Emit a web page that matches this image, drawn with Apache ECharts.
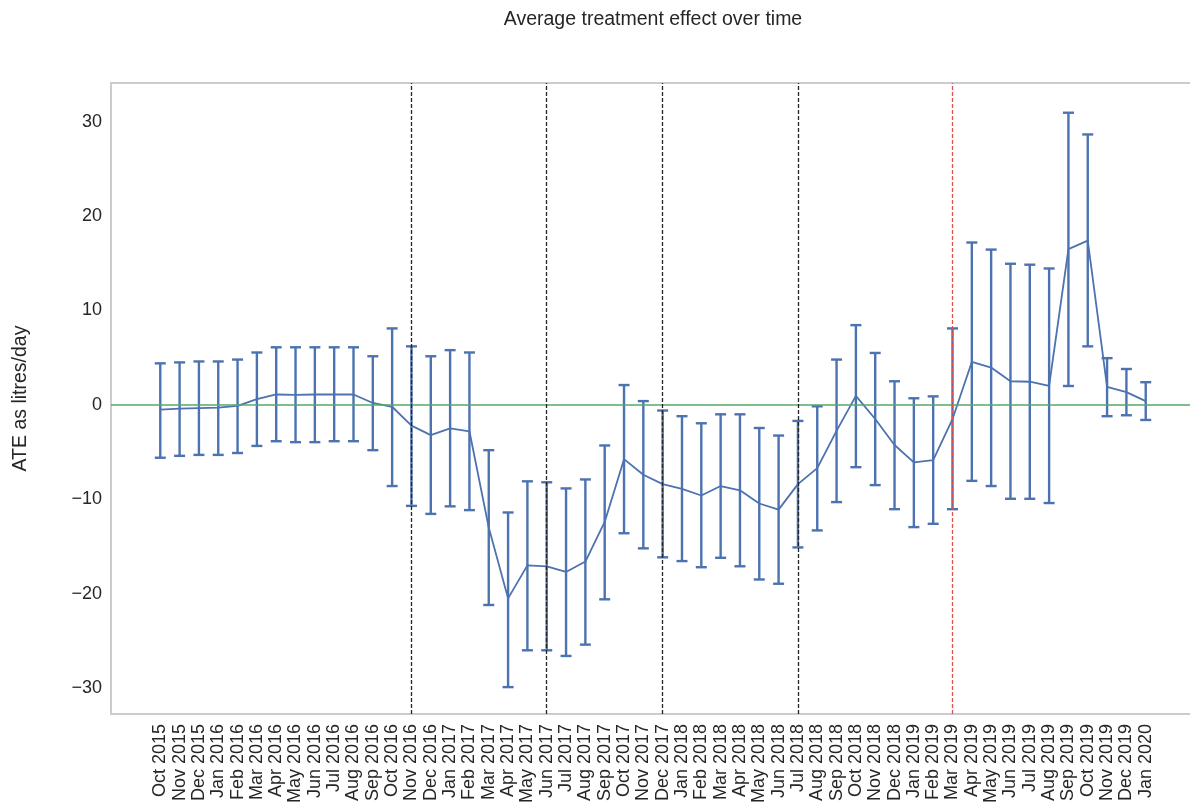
<!DOCTYPE html>
<html>
<head>
<meta charset="utf-8">
<title>Average treatment effect over time</title>
<script src="https://cdn.jsdelivr.net/npm/echarts@6/dist/echarts.min.js"></script>
<style>
  html, body { margin: 0; padding: 0; background: #ffffff; }
  #chart { width: 1190px; height: 805px; }
</style>
</head>
<body>
<div id="chart"></div>
<script>
// Monthly periods
const months = [
  'Oct 2015', 'Nov 2015', 'Dec 2015',
  'Jan 2016', 'Feb 2016', 'Mar 2016', 'Apr 2016', 'May 2016', 'Jun 2016',
  'Jul 2016', 'Aug 2016', 'Sep 2016', 'Oct 2016', 'Nov 2016', 'Dec 2016',
  'Jan 2017', 'Feb 2017', 'Mar 2017', 'Apr 2017', 'May 2017', 'Jun 2017',
  'Jul 2017', 'Aug 2017', 'Sep 2017', 'Oct 2017', 'Nov 2017', 'Dec 2017',
  'Jan 2018', 'Feb 2018', 'Mar 2018', 'Apr 2018', 'May 2018', 'Jun 2018',
  'Jul 2018', 'Aug 2018', 'Sep 2018', 'Oct 2018', 'Nov 2018', 'Dec 2018',
  'Jan 2019', 'Feb 2019', 'Mar 2019', 'Apr 2019', 'May 2019', 'Jun 2019',
  'Jul 2019', 'Aug 2019', 'Sep 2019', 'Oct 2019', 'Nov 2019', 'Dec 2019',
  'Jan 2020'
];

// Average treatment effect (litres/day) per month
const ateMean = [
  -0.5, -0.4, -0.35,
  -0.3, -0.1, 0.6, 1.1, 1.05, 1.1, 1.1, 1.1, 0.2, -0.2, -2.2, -3.2,
  -2.5, -2.8, -13.0, -20.5, -17.0, -17.1, -17.7, -16.6, -12.4, -5.75, -7.4, -8.4,
  -8.9, -9.6, -8.6, -9.05, -10.45, -11.1, -8.4, -6.7, -2.75, 0.95, -1.5, -4.25,
  -6.1, -5.85, -1.5, 4.55, 3.95, 2.5, 2.45, 2.0, 16.5, 17.4, 1.9, 1.35,
  0.4
];

// Lower bound of the confidence interval
const ateLower = [
  -5.6, -5.4, -5.3,
  -5.3, -5.1, -4.35, -3.85, -3.95, -3.95, -3.85, -3.85, -4.8, -8.6, -10.7, -11.55,
  -10.75, -11.15, -21.2, -29.9, -26.0, -26.0, -26.6, -25.4, -20.6, -13.6, -15.2, -16.15,
  -16.55, -17.2, -16.2, -17.1, -18.5, -18.95, -15.1, -13.3, -10.3, -6.6, -8.5, -11.05,
  -12.95, -12.6, -11.05, -8.05, -8.6, -9.95, -9.95, -10.4, 2.0, 6.2, -1.2, -1.1,
  -1.6
];

// Upper bound of the confidence interval
const ateUpper = [
  4.4, 4.5, 4.6,
  4.6, 4.8, 5.55, 6.1, 6.1, 6.1, 6.1, 6.1, 5.15, 8.1, 6.2, 5.15,
  5.8, 5.55, -4.8, -11.4, -8.1, -8.2, -8.85, -7.9, -4.3, 2.1, 0.4, -0.6,
  -1.2, -1.95, -1.0, -1.0, -2.45, -3.25, -1.7, -0.15, 4.8, 8.45, 5.5, 2.5,
  0.7, 0.9, 8.1, 17.2, 16.45, 14.95, 14.85, 14.45, 30.95, 28.65, 4.95, 3.8,
  2.4
];

// Y-axis tick values
const yTicks = [-30, -20, -10, 0, 10, 20, 30];

// Intervention months (black) and the final marker month (red)
const eventMonths = ['Nov 2016', 'Jun 2017', 'Dec 2017', 'Jul 2018'];
const finalMonth = 'Mar 2019';

const FONT = '"Liberation Sans", Arial, Helvetica, sans-serif';
const TEXT = '#262626';
const BLUE = '#4c72b0';

const idx = months.map((_, i) => i);
const lineData = ateMean.map((v, i) => [i, v]);
const errData = ateMean.map((_, i) => [i, ateLower[i], ateUpper[i]]);

const chart = echarts.init(document.getElementById('chart'), null, { renderer: 'canvas' });

chart.setOption({
  animation: false,
  backgroundColor: '#ffffff',
  textStyle: { fontFamily: FONT, color: TEXT },
  graphic: [{
    type: 'text',
    x: 653,
    y: 20,
    style: {
      text: 'Average treatment effect over time',
      align: 'center',
      verticalAlign: 'middle',
      fontFamily: FONT,
      fontSize: 19.5,
      fill: TEXT
    }
  }],
  grid: {
    left: 111,
    top: 83,
    width: 1084,
    height: 631,
    outerBoundsMode: 'none',
    containLabel: false,
    show: true,
    borderColor: '#cccccc',
    borderWidth: 2,
    backgroundColor: 'transparent'
  },
  xAxis: {
    type: 'value',
    min: -2.55,
    max: 53.55,
    axisLine: { show: false },
    axisTick: { show: false },
    splitLine: { show: false },
    axisLabel: {
      customValues: idx,
      rotate: 90,
      margin: 10,
      fontFamily: FONT,
      fontSize: 18,
      color: TEXT,
      formatter: v => months[Math.round(v)] || ''
    }
  },
  yAxis: {
    type: 'value',
    min: -32.75,
    max: 34.1,
    name: 'ATE as litres/day',
    nameLocation: 'middle',
    nameGap: 80,
    nameTextStyle: { fontFamily: FONT, fontSize: 19.5, color: TEXT },
    axisLine: { show: false },
    axisTick: { show: false },
    splitLine: { show: false },
    axisLabel: {
      customValues: yTicks,
      margin: 9,
      fontFamily: FONT,
      fontSize: 18,
      color: TEXT,
      formatter: v => (v < 0 ? '\u2212' + Math.abs(v) : String(v))
    }
  },
  series: [
    {
      // confidence interval whiskers with caps
      type: 'custom',
      z: 2,
      data: errData,
      encode: { x: 0, y: [1, 2] },
      renderItem: (params, api) => {
        const x = api.value(0);
        const lo = api.coord([x, api.value(1)]);
        const hi = api.coord([x, api.value(2)]);
        const cap = 5.5;
        const style = { stroke: BLUE, lineWidth: 2.4, fill: null };
        return {
          type: 'group',
          children: [
            { type: 'line', shape: { x1: lo[0], y1: lo[1], x2: hi[0], y2: hi[1] }, style },
            { type: 'line', shape: { x1: lo[0] - cap, y1: lo[1], x2: lo[0] + cap, y2: lo[1] }, style },
            { type: 'line', shape: { x1: hi[0] - cap, y1: hi[1], x2: hi[0] + cap, y2: hi[1] }, style }
          ]
        };
      }
    },
    {
      // zero reference line
      type: 'line',
      z: 1,
      data: [],
      markLine: {
        silent: true,
        symbol: 'none',
        label: { show: false },
        lineStyle: { color: '#55a868', width: 1.5, type: 'solid' },
        data: [{ yAxis: 0 }]
      }
    },
    {
      // mean effect
      type: 'line',
      z: 3,
      data: lineData,
      symbol: 'none',
      lineStyle: { color: BLUE, width: 1.8 },
      markLine: {
        silent: true,
        symbol: 'none',
        label: { show: false },
        data: eventMonths.map(m => ({
          xAxis: months.indexOf(m),
          lineStyle: { color: '#262626', width: 1.3, type: [4, 2] }
        })).concat([{
          xAxis: months.indexOf(finalMonth),
          lineStyle: { color: '#d9534f', width: 1.3, type: [4, 2] }
        }])
      }
    }
  ]
});
</script>
</body>
</html>
